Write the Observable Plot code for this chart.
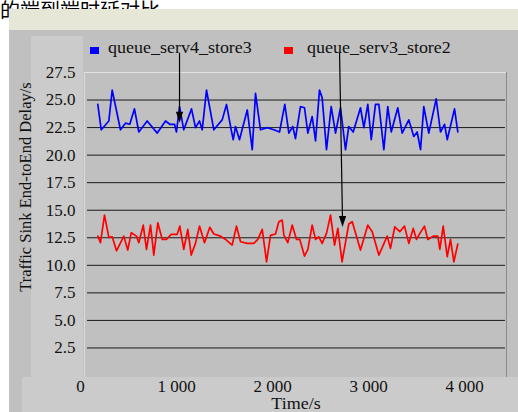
<!DOCTYPE html>
<html><head><meta charset="utf-8">
<script src="https://cdn.jsdelivr.net/npm/d3@7"></script>
<script src="https://cdn.jsdelivr.net/npm/@observablehq/plot@0.6"></script>
<style>
html,body{margin:0;padding:0;background:#fff;width:518px;height:412px;overflow:hidden;position:relative;font-family:"Liberation Serif","Times New Roman",Times,"DejaVu Serif",serif;}
.abs{position:absolute;}
.leg{position:absolute;font-size:16.5px;line-height:16.5px;white-space:nowrap;transform:scaleX(1.09);transform-origin:left center;color:#111;}
.sq{position:absolute;width:9px;height:7px;}
#chart svg text{font-family:"Liberation Serif","Times New Roman",Times,"DejaVu Serif",serif;}
</style></head><body>
<div class="abs" style="left:0;top:0px;font:20px/20px 'Noto Sans CJK SC';white-space:nowrap;color:#000">的端到端时延对比</div>
<div class="abs" style="left:9px;top:9px;width:509px;height:21px;background:#e7e7d7"></div>
<div class="abs" style="left:9px;top:30px;width:509px;height:382px;background:#c0c0c0"></div>
<div class="abs" style="left:31px;top:36px;width:52px;height:341px;background:#cbcbcb"></div>
<div class="abs" style="left:22px;top:377px;width:496px;height:35px;background:#cbcbcb"></div>
<div class="abs" style="left:84px;top:72px;width:1px;height:305px;background:#dcdcdc"></div>
<div class="abs" style="left:84px;top:72px;width:422px;height:1px;background:#e2e2e2"></div>
<div class="abs" style="left:506px;top:72px;width:1px;height:305px;background:#8a8a8a"></div>
<div class="sq" style="left:90px;top:47px;background:#0000ff"></div>
<div class="leg" style="left:108px;top:40px">queue_serv4_store3</div>
<div class="sq" style="left:284px;top:47px;background:#ff0000"></div>
<div class="leg" style="left:307px;top:40px">queue_serv3_store2</div>
<div class="abs" style="left:26px;top:187px;font-size:16.5px;line-height:16.5px;white-space:nowrap;transform:translate(-50%,-50%) rotate(-90deg);color:#111">Traffic Sink End-toEnd Delay/s</div>
<div class="abs" style="left:296px;top:396px;font-size:16.5px;line-height:16.5px;white-space:nowrap;transform:translateX(-50%) scaleX(1.09);color:#111">Time/s</div>
<div id="chart" class="abs" style="left:0;top:30px"></div>
<script>
// Series 1: queue_serv4_store3 (blue)
const blueTime = [180,216,295,330,416,468,513,562,607,694,799,885,930,979,999,1031,1075,1156,1197,1239,1267,1312,1388,1475,1520,1569,1590,1614,1655,1736,1788,1822,1874,1944,2013,2072,2127,2169,2210,2238,2290,2332,2367,2412,2447,2488,2516,2561,2610,2655,2707,2759,2793,2839,2915,2950,2991,3027,3071,3106,3158,3199,3235,3303,3349,3418,3470,3505,3540,3574,3626,3703,3748,3790,3818,3894,3928];
const blueDelay = [24.6,22.3,23.1,25.9,22.3,22.9,22.8,24.2,22.1,23.1,22.0,23.1,22.8,22.8,22.1,24.4,22.3,24.2,22.5,23.1,22.3,25.9,22.3,23.2,24.6,22.3,21.4,22.6,21.4,24.1,20.5,25.6,22.3,22.5,22.3,22.1,24.6,22.0,22.6,21.5,24.4,24.3,22.0,23.5,21.3,25.9,25.2,20.5,24.4,22.0,24.3,20.5,22.6,22.1,24.3,22.5,24.6,21.4,24.6,24.6,20.5,24.4,22.1,24.3,22.0,23.2,21.7,22.1,20.5,24.4,22.0,25.1,22.1,22.8,21.4,24.2,22.1];
// Series 2: queue_serv3_store2 (red)
const redTime = [180,208,250,295,330,375,451,492,528,583,607,653,687,729,763,805,851,895,944,1007,1034,1075,1117,1153,1197,1239,1291,1346,1388,1458,1510,1579,1624,1666,1736,1804,1846,1892,1937,1978,2030,2065,2100,2117,2158,2204,2249,2283,2332,2367,2412,2447,2481,2516,2561,2603,2645,2679,2723,2793,2829,2915,2991,3037,3106,3193,3227,3272,3324,3373,3418,3464,3498,3533,3581,3616,3672,3720,3741,3776,3818,3852,3887,3928];
const redDelay = [12.65,12.05,14.56,12.54,12.59,11.32,12.65,11.38,12.95,12.65,12.05,13.65,11.45,13.65,10.93,13.86,12.35,12.35,12.81,12.81,13.56,11.45,13.26,10.93,11.99,13.56,12.05,13.45,12.84,12.65,12.35,11.84,13.56,12.14,11.99,11.99,12.35,13.26,10.32,12.72,12.84,13.95,14.11,12.75,12.05,13.65,12.35,12.35,10.84,11.45,13.65,12.35,12.59,11.99,12.9,14.56,11.84,13.35,10.32,13.75,13.95,11.38,13.65,13.05,10.93,12.65,11.54,13.5,13.05,13.56,11.99,13.35,12.35,12.9,13.56,12.35,12.65,12.65,11.45,13.56,10.78,12.35,10.32,11.93];
// Axis ticks
const xTicks = [0,1000,2000,3000,4000];
const xTickLabels = ["0","1 000","2 000","3 000","4 000"];
const yTicks = [2.5,5,7.5,10,12.5,15,17.5,20,22.5,25,27.5];
const yTickLabels = ["2.5","5.0","7.5","10.0","12.5","15.0","17.5","20.0","22.5","25.0","27.5"];
const yGrid = [2.5,5,7.5,10,12.5,15,17.5,20,22.5,25];
// Annotation arrows (from legend labels to series)
const arrowX1 = [1031,2697];
const arrowY1 = [29.29,29.29];
const arrowX2 = [1031,2728];
const arrowY2 = [22.93,13.47];

const blue = blueTime.map((t,i)=>({t, v: blueDelay[i]}));
const red = redTime.map((t,i)=>({t, v: redDelay[i]}));
const arrows = arrowX1.map((x,i)=>({x1:x, y1:arrowY1[i], x2:arrowX2[i], y2:arrowY2[i]}));
const head = {draw(ctx){ctx.moveTo(0,0);ctx.lineTo(-3.6,-11);ctx.lineTo(3.6,-11);ctx.closePath();}};
const serif = "'Liberation Serif','Times New Roman',Times,'DejaVu Serif',serif";

const chart = Plot.plot({
  width: 518, height: 382,
  marginLeft: 80, marginRight: 12, marginTop: 42, marginBottom: 37,
  x: {domain: [0, 4435]},
  y: {domain: [0, 27.5]},
  style: {background: "transparent", fontFamily: serif, fontSize: "17px", color: "#111", overflow: "visible"},
  marks: [
    Plot.ruleY(yGrid, {stroke: "#1a1a1a", strokeWidth: 1, insetLeft: 7, insetRight: 1}),
    Plot.axisY(yTicks, {tickSize: 0, tickPadding: 5, label: null, fontSize: 17, fontFamily: serif, tickFormat: d => yTickLabels[yTicks.indexOf(d)]}),
    Plot.axisX(xTicks, {tickSize: 0, tickPadding: 4, label: null, fontSize: 17, fontFamily: serif, tickFormat: d => xTickLabels[xTicks.indexOf(d)]}),
    Plot.line(blue, {x: "t", y: "v", stroke: "#0000ff", strokeWidth: 1.7}),
    Plot.line(red, {x: "t", y: "v", stroke: "#ff0000", strokeWidth: 1.7}),
    Plot.link(arrows, {x1: "x1", y1: "y1", x2: "x2", y2: (d)=>d.y2 + 0.5, stroke: "#000", strokeWidth: 1.2, clip: false}),
    Plot.dot(arrows, {x: "x2", y: "y2", symbol: head, r: 4, fill: "#000", stroke: "none", clip: false})
  ]
});
document.getElementById("chart").appendChild(chart);
</script>
</body></html>
